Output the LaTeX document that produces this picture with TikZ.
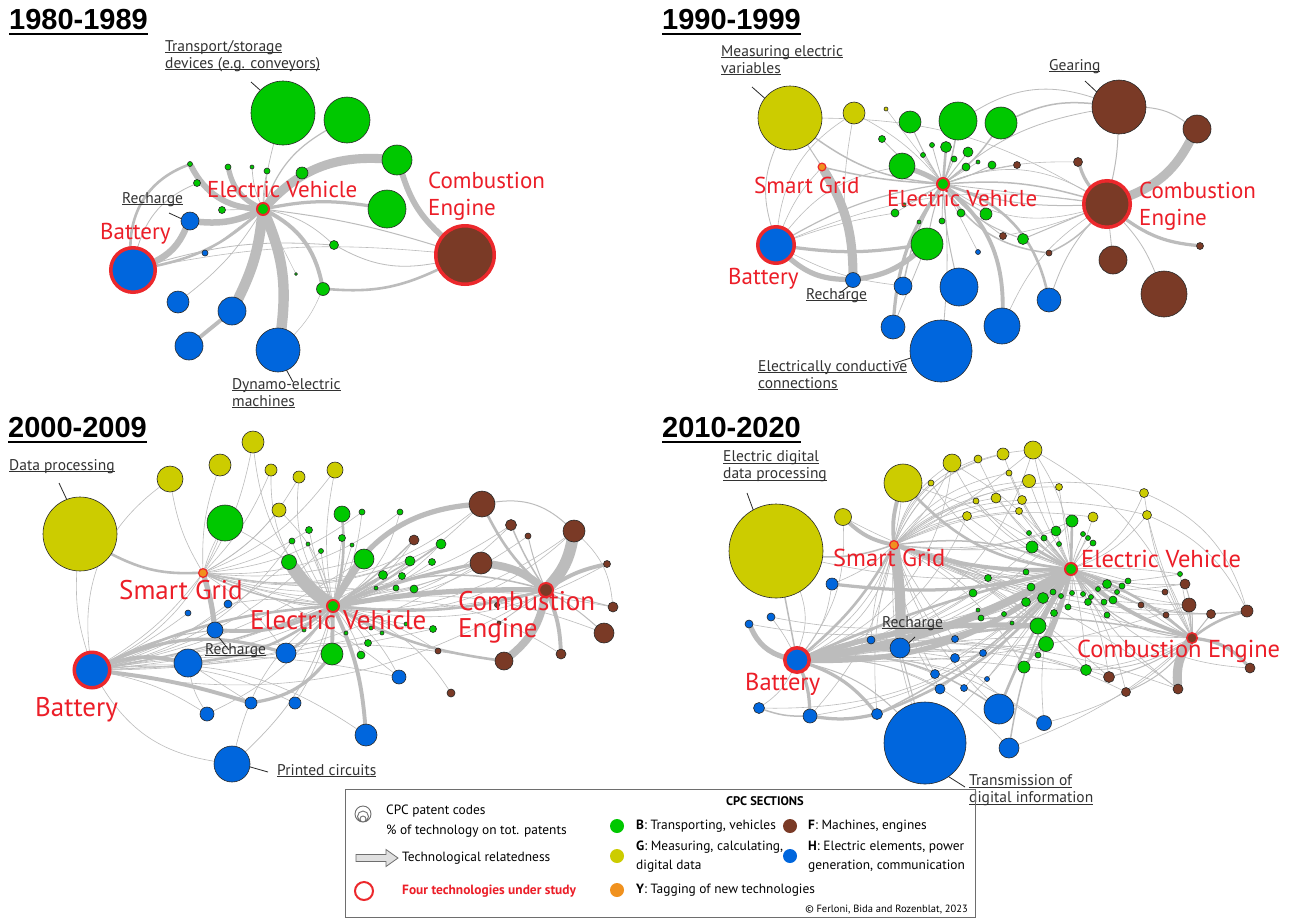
\documentclass[tikz,border=0pt]{standalone}
\usepackage{fontspec}
\setmainfont{PT Sans}
\newfontfamily\titlefont{Liberation Sans}
\usetikzlibrary{calc}

\definecolor{cg}{RGB}{0,200,0}
\definecolor{cf}{RGB}{122,58,38}
\definecolor{cy}{RGB}{204,204,0}
\definecolor{ch}{RGB}{0,102,221}
\definecolor{co}{RGB}{240,145,30}
\definecolor{ringred}{RGB}{236,40,44}
\definecolor{labred}{RGB}{236,30,40}
\definecolor{edgegray}{RGB}{188,188,188}
\definecolor{nodeline}{RGB}{40,40,40}
\definecolor{lblgray}{RGB}{50,50,50}
\definecolor{leadgray}{RGB}{40,40,40}
\definecolor{boxgray}{RGB}{110,110,110}

\pgfdeclarelayer{paper}
\pgfdeclarelayer{links}
\pgfsetlayers{paper,links,main}

% a patent-code circle: name, x, y, radius, colour
\newcommand\cpc[5]{\node[cpcnode, fill=#5, minimum size={2*#4}] (#1) at (#2,#3) {};}
% one of the four studied technologies: name, x, y, outer radius, colour, ring width
\newcommand\cpcring[6]{\node[cpcnode, fill=#5, draw=ringred, line width=#6, minimum size={2*#4-#6}] (#1) at (#2,#3) {};}
\newcommand\ul[1]{\underline{\smash{#1}}}
\newcommand\fsA{\fontsize{23}{27}\selectfont}
\newcommand\fsC{\fontsize{27}{27}\selectfont}
\newcommand\fsD{\fontsize{24.5}{27}\selectfont}

\begin{document}
\begin{tikzpicture}[x=1pt,y=-1pt,
  cpcnode/.style={circle, inner sep=0pt, outer sep=0pt, draw=nodeline, line width=0.6pt},
  lnk/.style={draw=edgegray, line width={(#1>1.5)?(1.3*#1):(#1)}, line cap=round},
  lnk/.default=0.6,
  leader/.style={draw=leadgray, line width=0.8pt},
  ttl/.style={font=\titlefont\bfseries\fontsize{29}{32}\selectfont, anchor=west, inner sep=0pt},
  ttlline/.style={line width=1.8pt},
  redlbl/.style={text=labred, anchor=west, inner sep=0pt, align=left},
  glbl/.style={text=lblgray, anchor=west, inner sep=0pt, align=left, font=\fontsize{15.5}{17}\selectfont},
  lgd/.style={anchor=west, inner sep=0pt, font=\fontsize{13.4}{19}\selectfont, align=left},
  dot/.style={circle, inner sep=0pt, minimum size=14pt},
]
\useasboundingbox (0,0) rectangle (1305,919);
\begin{pgfonlayer}{paper}
  \fill[white] (0,0) rectangle (1305,919);
\end{pgfonlayer}

%% ================= 1980-1989 =================
\node[ttl] (t1) at (9,20) {1980-1989};
\draw[ttlline] ([yshift=-3.5pt]t1.south west) -- ([yshift=-3.5pt]t1.south east);
\cpc{a-g1}{283}{113}{32}{cg}
\cpc{a-g2}{347}{120}{23}{cg}
\cpc{a-g3}{397}{160}{15}{cg}
\cpc{a-g4}{387}{209}{19}{cg}
\cpc{a-s1}{190}{164}{2.5}{cg}
\cpc{a-s2}{197}{183}{3.5}{cg}
\cpc{a-s3}{228}{167}{3}{cg}
\cpc{a-s4}{252}{167}{2}{cg}
\cpc{a-s5}{267}{171}{3}{cg}
\cpc{a-s6}{302}{173}{6}{cg}
\cpc{a-s7}{222}{210}{3.5}{cg}
\cpc{a-s8}{334}{245}{4.5}{cg}
\cpc{a-s9}{323}{289}{6.5}{cg}
\cpc{a-s10}{296}{274}{1.5}{cg}
\cpc{a-b0}{205}{253}{3}{ch}
\cpc{a-rec}{190}{221}{9}{ch}
\cpc{a-b1}{178}{302}{11}{ch}
\cpc{a-b2}{232}{311}{14}{ch}
\cpc{a-b3}{189}{346}{14}{ch}
\cpc{a-b4}{278}{350}{22}{ch}
\cpcring{a-ev}{263}{209}{7}{cg}{2}
\cpcring{a-bat}{133}{270}{24}{ch}{3.5}
\cpcring{a-ce}{465}{255}{31}{cf}{3.5}

\node[glbl] (a-t1) at (165,60.5) {\ul{Transport/storage}\\\ul{devices (e.g. conveyors)}};
\node[glbl] (a-t2) at (122,204) {\ul{Recharge}};
\node[glbl] (a-t3) at (232,398.5) {\ul{Dynamo-electric}\\\ul{machines}};
\node[redlbl, font=\fsA] (a-r1) at (100,234) {Battery};
\node[redlbl, font=\fsA] (a-r2) at (207,189) {Electric Vehicle};
\node[redlbl, font=\fsA] (a-r3) at (428,196) {Combustion\\Engine};
\coordinate (a-k1) at (251,82);  \draw[leader] (a-k1) -- (a-g1.135);
\coordinate (a-k2) at (169,213); \draw[leader] (a-k2) -- (a-rec.165);
\coordinate (a-k3) at (293,382); \draw[leader] (a-k3) -- (a-b4.-67);

\begin{pgfonlayer}{links}
\draw[lnk=0.7] (a-ev) to[bend left=5] (a-g1);
\draw[lnk=1.2] (a-ev) to[bend left=20] (a-g2);
\draw[lnk=7] (a-ev) to[bend left=25] (a-g3);
\draw[lnk=4.5] (a-g3) to[bend right=15] (a-ce);
\draw[lnk=2.5] (a-ev) to[bend left=10] (a-g4);
\draw[lnk=5] (a-ev) to[bend left=15] (a-rec);
\draw[lnk=5] (a-rec) to[bend left=20] (a-bat);
\draw[lnk=2] (a-bat) to[bend left=35] (a-s1);
\draw[lnk=0.8] (a-bat) to[bend left=25] (a-s2);
\draw[lnk=4.5] (a-ev) to[bend left=30] (a-s1);
\draw[lnk=4] (a-ev) to[bend left=25] (a-s3);
\draw[lnk=0.7] (a-ev) to[bend left=10] (a-s4);
\draw[lnk=0.7] (a-ev) to[bend left=5] (a-s5);
\draw[lnk=0.7] (a-ev) to[bend right=10] (a-s6);
\draw[lnk=0.6] (a-ev) to (a-s7);
\draw[lnk=2] (a-bat) to[bend right=15] (a-ev);
\draw[lnk=0.6] (a-ev) to (a-b0);
\draw[lnk=0.8] (a-bat) to[bend left=10] (a-s8);
\draw[lnk=0.7] (a-ev) to[bend left=10] (a-b1);
\draw[lnk=8] (a-ev) to[bend left=10] (a-b2);
\draw[lnk=3] (a-b2) to (a-b3);
\draw[lnk=8] (a-ev) to[bend left=15] (a-b4);
\draw[lnk=0.5] (a-ev) to (a-s10);
\draw[lnk=3] (a-ev) to[bend left=25] (a-s9);
\draw[lnk=2] (a-s9) to[bend right=15] (a-ce);
\draw[lnk=0.7] (a-ev) to[bend left=15] (a-s8);
\draw[lnk=0.8] (a-s8) to[bend right=20] (a-ce);
\draw[lnk=0.6] (a-bat) to[bend left=8] (a-ce);
\draw[lnk=0.5] (a-b4) to[bend right=10] (a-s9);
\draw[lnk=1] (a-ev) to[bend left=5] (a-ce);
\end{pgfonlayer}

%% ================= 1990-1999 =================
\node[ttl] (t2) at (662,20) {1990-1999};
\draw[ttlline] ([yshift=-3.5pt]t2.south west) -- ([yshift=-3.5pt]t2.south east);
\cpc{b-y1}{790}{118}{32}{cy}
\cpc{b-y2}{854}{113}{11}{cy}
\cpc{b-y3}{886}{109}{2}{cy}
\cpc{b-g1}{910}{122}{11}{cg}
\cpc{b-g2}{958}{121}{19}{cg}
\cpc{b-g3}{1001}{123}{16}{cg}
\cpc{b-g4}{902}{166}{13}{cg}
\cpc{b-g5}{927}{244}{16}{cg}
\cpc{b-s1}{882}{139}{3.5}{cg}
\cpc{b-s2}{932}{145}{2.5}{cg}
\cpc{b-s3}{946}{147}{5.5}{cg}
\cpc{b-s4}{968}{152}{5}{cg}
\cpc{b-s5}{923}{155}{2.5}{cg}
\cpc{b-s6}{954}{159}{3}{cg}
\cpc{b-s7}{966}{167}{4}{cg}
\cpc{b-s8}{978}{162}{2}{cg}
\cpc{b-s9}{992}{165}{4}{cg}
\cpc{b-s10}{895}{213}{4}{cg}
\cpc{b-s11}{904}{205}{2}{cg}
\cpc{b-s12}{919}{222}{2}{cg}
\cpc{b-s13}{942}{221}{3}{cg}
\cpc{b-s14}{961}{213}{4}{cg}
\cpc{b-s15}{986}{214}{6}{cg}
\cpc{b-s16}{1023}{239}{5.5}{cg}
\cpc{b-f1}{1119}{107}{27}{cf}
\cpc{b-f2}{1197}{129}{14}{cf}
\cpc{b-f3}{1078}{162}{4.5}{cf}
\cpc{b-f4}{1017}{165}{3.5}{cf}
\cpc{b-f5}{1003}{236}{3.5}{cf}
\cpc{b-f6}{1049}{253}{3}{cf}
\cpc{b-f7}{1200}{246}{3.5}{cf}
\cpc{b-f8}{1113}{260}{14}{cf}
\cpc{b-f9}{1164}{294}{23}{cf}
\cpc{b-h1}{978}{252}{2.5}{ch}
\cpc{b-rec}{853}{280}{7.5}{ch}
\cpc{b-h2}{903}{286}{9}{ch}
\cpc{b-h3}{959}{287}{19}{ch}
\cpc{b-h4}{893}{327}{12}{ch}
\cpc{b-h5}{941}{351}{31}{ch}
\cpc{b-h6}{1002}{326}{18}{ch}
\cpc{b-h7}{1049}{300}{12}{ch}
\cpcring{b-ev}{943}{184}{7}{cg}{2}
\cpcring{b-sg}{822}{167}{4.5}{co}{1.2}
\cpcring{b-bat}{776}{245}{20}{ch}{3.5}
\cpcring{b-ce}{1107}{204}{25}{cf}{3.5}

\node[glbl] (b-t1) at (721,65.5) {\ul{Measuring electric}\\\ul{variables}};
\node[glbl] (b-t2) at (1049,71) {\ul{Gearing}};
\node[glbl] (b-t3) at (806,300) {\ul{Recharge}};
\node[glbl] (b-t4) at (758,380.5) {\ul{Electrically conductive}\\\ul{connections}};
\node[redlbl, font=\fsA] (b-r1) at (754,185) {Smart Grid};
\node[redlbl, font=\fsA] (b-r2) at (887,198) {Electric Vehicle};
\node[redlbl, font=\fsA] (b-r3) at (1139,206) {Combustion\\Engine};
\node[redlbl, font=\fsA] (b-r4) at (728,279) {Battery};
\coordinate (b-k1) at (752,87);   \draw[leader] (b-k1) -- (b-y1.142);
\coordinate (b-k2) at (1085,81);  \draw[leader] (b-k2) -- (b-f1.146);
\coordinate (b-k3) at (840,293);  \draw[leader] (b-k3) -- (b-rec.-125);
\coordinate (b-k4) at (895,363);  \draw[leader] (b-k4) -- (b-h5.193);

\begin{pgfonlayer}{links}
\draw[lnk=7] (b-sg) to[bend left=15] (b-rec);
\draw[lnk=4] (b-bat) to[bend right=20] (b-rec);
\draw[lnk=4] (b-rec) to[bend right=15] (b-g5);
\draw[lnk=2.5] (b-bat) to[bend right=8] (b-g5);
\draw[lnk=1.2] (b-bat) to[bend left=10] (b-ev);
\draw[lnk=0.8] (b-bat) to[bend left=20] (b-y1);
\foreach \t/\b in {b-sg/10, b-g4/20, b-ce/15, b-s10/5, b-h2/-10}
  \draw[lnk] (b-bat) to[bend left=\b] (\t);
\draw[lnk=1.5] (b-y1) to[bend right=15] (b-ev);
\draw[lnk=1] (b-y1) to (b-sg);
\draw[lnk=0.6] (b-y1) to[bend left=15] (b-ce);
\draw[lnk=0.6] (b-y2) to[bend right=25] (b-bat);
\draw[lnk=0.6] (b-y2) to[bend left=10] (b-ev);
\draw[lnk=0.6] (b-y2) to[bend right=10] (b-rec);
\draw[lnk=0.5] (b-y3) to (b-ev);
\foreach \t/\b/\w in {b-g1/5/1, b-g2/-5/1.5, b-g3/-10/1.5, b-g4/-5/4, b-s1/10/0.8, b-s2/0/0.8, b-s3/0/2, b-s4/0/1, b-s5/0/0.6, b-s6/0/0.8, b-s7/0/0.8, b-s8/0/0.6, b-s9/-5/1, b-s10/0/0.6, b-s11/0/0.6, b-s12/0/0.6, b-s13/0/0.8, b-s14/0/0.8, b-s15/-5/1.2, b-g5/-5/1, b-sg/5/1.5}
  \draw[lnk=\w] (b-ev) to[bend left=\b] (\t);
\foreach \t/\b/\w in {b-ce/10/1.5, b-ce/-10/1, b-ce/25/0.6, b-ce/-25/0.6, b-ce/0/0.8, b-f4/5/0.8, b-f5/-5/0.8, b-f6/-25/1.5, b-s16/-15/1, b-h6/25/3, b-h7/30/2, b-h5/5/0.8, b-h3/-5/1, b-h2/-10/1.5, b-h4/-15/2.5, b-h1/0/0.6, b-f3/10/0.6, b-f1/15/0.8}
  \draw[lnk=\w] (b-ev) to[bend left=\b] (\t);
\draw[lnk=1.5] (b-g3) to[bend left=15] (b-f1);
\draw[lnk=0.8] (b-g2) to[bend left=25] (b-f1);
\draw[lnk=1] (b-f1) to[bend left=15] (b-f2);
\draw[lnk=1] (b-f1) to[bend left=5] (b-ce);
\draw[lnk=7] (b-ce) to[bend right=20] (b-f2);
\foreach \t/\b/\w in {b-f3/10/2.5, b-f7/-15/2.5, b-f8/0/0.8, b-f9/10/0.8, b-f6/10/1.5, b-s16/0/1, b-h7/-10/0.8, b-h6/-15/0.6, b-f5/5/0.6}
  \draw[lnk=\w] (b-ce) to[bend left=\b] (\t);
\draw[lnk=0.8] (b-h4) to (b-g5);
\end{pgfonlayer}

%% ================= 2000-2009 =================
\node[ttl] (t3) at (8,428) {2000-2009};
\draw[ttlline] ([yshift=-3.5pt]t3.south west) -- ([yshift=-3.5pt]t3.south east);
\cpc{c-y0}{80}{534}{37}{cy}
\cpc{c-y1}{170}{479}{13}{cy}
\cpc{c-y2}{220}{465}{11}{cy}
\cpc{c-y3}{253}{442}{11}{cy}
\cpc{c-y4}{271}{470}{6}{cy}
\cpc{c-y5}{299}{477}{6}{cy}
\cpc{c-y6}{279}{510}{7}{cy}
\cpc{c-y7}{335}{470}{8}{cy}
\cpc{c-g1}{225}{523}{18}{cg}
\cpc{c-g2}{289}{562}{7.5}{cg}
\cpc{c-g3}{364}{559}{10}{cg}
\cpc{c-g4}{342}{514}{8}{cg}
\cpc{c-g5}{332}{654}{11}{cg}
\cpc{c-s1}{309}{530}{3.5}{cg}
\cpc{c-s2}{292}{541}{3}{cg}
\cpc{c-s3}{308}{544}{2}{cg}
\cpc{c-s4}{321}{551}{2.5}{cg}
\cpc{c-s5}{362}{512}{3}{cg}
\cpc{c-s6}{400}{512}{3}{cg}
\cpc{c-s7}{342}{538}{3.5}{cg}
\cpc{c-s8}{352}{545}{2}{cg}
\cpc{c-s9}{441}{544}{5}{cg}
\cpc{c-s10}{410}{561}{5}{cg}
\cpc{c-s11}{432}{562}{3.5}{cg}
\cpc{c-s12}{383}{575}{4.5}{cg}
\cpc{c-s13}{402}{576}{3.5}{cg}
\cpc{c-s14}{376}{588}{2}{cg}
\cpc{c-s15}{396}{588}{3}{cg}
\cpc{c-s16}{414}{589}{4}{cg}
\cpc{c-s17}{304}{630}{2}{cg}
\cpc{c-s18}{346}{633}{2}{cg}
\cpc{c-s19}{371}{628}{2}{cg}
\cpc{c-s20}{382}{633}{2}{cg}
\cpc{c-s21}{406}{624}{2}{cg}
\cpc{c-s22}{433}{629}{3.5}{cg}
\cpc{c-s23}{368}{643}{3.5}{cg}
\cpc{c-s24}{361}{655}{4}{cg}
\cpc{c-f1}{414}{540}{5}{cf}
\cpc{c-f2}{482}{504}{13}{cf}
\cpc{c-f3}{511}{525}{5.5}{cf}
\cpc{c-f4}{528}{536}{3}{cf}
\cpc{c-f5}{574}{531}{11}{cf}
\cpc{c-f6}{481}{563}{11}{cf}
\cpc{c-f7}{607}{564}{3.5}{cf}
\cpc{c-f8}{497}{605}{2.5}{cf}
\cpc{c-f9}{499}{623}{2}{cf}
\cpc{c-f10}{613}{607}{5}{cf}
\cpc{c-f11}{604}{633}{10}{cf}
\cpc{c-f12}{561}{654}{5}{cf}
\cpc{c-f13}{504}{661}{9}{cf}
\cpc{c-f14}{438}{651}{3}{cf}
\cpc{c-f15}{451}{693}{4}{cf}
\cpc{c-h1}{228}{604}{4}{ch}
\cpc{c-h2}{188}{613}{3}{ch}
\cpc{c-rec}{215}{630}{8}{ch}
\cpc{c-h3}{188}{663}{14}{ch}
\cpc{c-h4}{286}{653}{10}{ch}
\cpc{c-h5}{251}{703}{6}{ch}
\cpc{c-h6}{295}{703}{6}{ch}
\cpc{c-h7}{207}{714}{7}{ch}
\cpc{c-h8}{232}{764}{18}{ch}
\cpc{c-h9}{399}{677}{7}{ch}
\cpc{c-h10}{366}{735}{11}{ch}
\cpcring{c-ev}{333}{606}{7}{cg}{2}
\cpcring{c-sg}{203}{573}{5}{co}{1.2}
\cpcring{c-bat}{92}{670}{19.5}{ch}{3.5}
\cpcring{c-ce}{546}{590}{8}{cf}{2}

\node[glbl] (c-t1) at (9,471) {\ul{Data processing}};
\node[glbl] (c-t2) at (205,655) {\ul{Recharge}};
\node[glbl] (c-t3) at (277,776) {\ul{Printed circuits}};
\node[redlbl, font=\fsC] (c-r1) at (119,590) {Smart Grid};
\node[redlbl, font=\fsC] (c-r2) at (250,620) {Electric Vehicle};
\node[redlbl, font=\fsC] (c-r3) at (458,617) {Combustion\\Engine};
\node[redlbl, font=\fsC] (c-r4) at (35,710) {Battery};
\coordinate (c-k1) at (59,483);  \draw[leader] (c-k1) -- (c-y0.111);
\coordinate (c-k2) at (229,650); \draw[leader] (c-k2) -- (c-rec.-63);
\coordinate (c-k3) at (268,772); \draw[leader] (c-k3) -- (c-h8.-9);

\begin{pgfonlayer}{links}
\foreach \t/\b in {c-y7/10, c-y6/-15, c-y5/20, c-y4/25, c-s1/5, c-s2/10, c-s3/0, c-s4/5, c-s5/-10, c-s6/-20, c-s7/0, c-s8/0, c-s9/-15, c-s10/-10, c-s11/-10, c-s12/-5, c-s13/-5, c-s14/0, c-s15/0, c-s16/0, c-s17/10, c-s18/0, c-s19/0, c-s20/0, c-s21/-5, c-s22/-10, c-s23/10, c-s24/10, c-f1/-15, c-f3/-20, c-f4/-15, c-f7/-20, c-f10/10, c-f11/15, c-f12/20, c-f14/10, c-f15/20, c-h1/-10, c-h6/10, c-h8/-20, c-h9/15, c-g1/-10, c-y3/20, c-h7/15, c-f5/-25, c-f6/-5, c-f2/-10}
  \draw[lnk] (c-ev) to[bend left=\b] (\t);
\foreach \t/\b/\w in {c-g2/10/10, c-g3/0/3, c-g4/-10/2, c-g5/0/3, c-h10/10/3, c-rec/15/3, c-f2/30/4, c-ce/5/4, c-ce/-10/2, c-ce/20/1.5, c-f6/5/2.5, c-f13/-10/2, c-h4/10/2, c-h3/15/2, c-s12/0/1.5, c-s10/0/1.5, c-s9/-5/1.5, c-f1/-5/1.5}
  \draw[lnk=\w] (c-ev) to[bend left=\b] (\t);
\foreach \t/\b/\w in {c-f5/-15/9, c-f13/20/6, c-f6/-15/6, c-f2/10/2, c-f7/10/3, c-f12/10/3, c-f11/5/1, c-f10/0/1, c-f3/5/1.5, c-f4/5/1, c-f8/0/0.8, c-f9/0/0.8}
  \draw[lnk=\w] (c-ce) to[bend left=\b] (\t);
\draw[lnk=1] (c-f2) to[bend left=25] (c-f5);
\draw[lnk=0.6] (c-f5) to[bend left=20] (c-f10);
\draw[lnk=4] (c-sg) to[bend left=5] (c-rec);
\draw[lnk=2] (c-sg) to[bend left=15] (c-y0);
\foreach \t/\b in {c-y1/10, c-y2/10, c-y3/-10, c-y4/-10, c-y5/-15, c-y6/-10, c-y7/-15, c-g1/5, c-s1/-10, c-s5/-15, c-s6/-20, c-s9/-20, c-f2/-25, c-f6/-20, c-f5/-30, c-ce/-15, c-h4/10, c-h9/10, c-g3/-10, c-s10/-15, c-s16/-5, c-f3/-25}
  \draw[lnk] (c-sg) to[bend left=\b] (\t);
\draw[lnk=1.5] (c-sg) to[bend left=-10] (c-ev);
\foreach \t/\b/\w in {c-h3/15/3, c-h4/20/2.5, c-h5/5/3, c-ev/10/2, c-ev/-5/1.5, c-rec/10/1}
  \draw[lnk=\w] (c-bat) to[bend left=\b] (\t);
\foreach \t/\b in {c-y0/10, c-y1/30, c-sg/-10, c-h1/-10, c-h2/-5, c-h7/10, c-h8/-25, c-g1/-20, c-g2/-10, c-s4/-15, c-s9/-15, c-f6/-15, c-ce/-20, c-h6/15, c-h9/10, c-s12/-10, c-s20/-5, c-g3/-10, c-s2/-20, c-f13/10, c-s22/-5, c-h10/20}
  \draw[lnk] (c-bat) to[bend left=\b] (\t);
\draw[lnk=2.5] (c-h5) to[bend right=20] (c-g5);
\draw[lnk=0.7] (c-h8) to[bend right=15] (c-ev);
\draw[lnk=0.6] (c-h3) to (c-h5);
\draw[lnk=0.6] (c-h7) to[bend left=10] (c-h3);
\end{pgfonlayer}

%% ================= 2010-2020 =================
\node[ttl] (t4) at (662,428) {2010-2020};
\draw[ttlline] ([yshift=-3.5pt]t4.south west) -- ([yshift=-3.5pt]t4.south east);
\cpc{d-y0}{776}{551}{47}{cy}
\cpc{d-y1}{843}{517}{8.5}{cy}
\cpc{d-y2}{903}{483}{19}{cy}
\cpc{d-y3}{931}{483}{3}{cy}
\cpc{d-y4}{952}{463}{9}{cy}
\cpc{d-y5}{978}{459}{4}{cy}
\cpc{d-y6}{1003}{454}{6}{cy}
\cpc{d-y7}{1033}{450}{9}{cy}
\cpc{d-y8}{1009}{473}{3}{cy}
\cpc{d-y9}{976}{501}{3}{cy}
\cpc{d-y10}{996}{498}{5}{cy}
\cpc{d-y11}{967}{516}{4.5}{cy}
\cpc{d-y12}{1029}{481}{6.5}{cy}
\cpc{d-y13}{1059}{487}{3.5}{cy}
\cpc{d-y14}{1022}{500}{4.5}{cy}
\cpc{d-y15}{1019}{511}{3.5}{cy}
\cpc{d-y16}{1144}{493}{4.5}{cy}
\cpc{d-y17}{1147}{515}{4.5}{cy}
\cpc{d-y18}{1093}{517}{5}{cy}
\cpc{d-s1}{1072}{521}{6}{cg}
\cpc{d-s2}{1056}{531}{5}{cg}
\cpc{d-s3}{1029}{533}{2.5}{cg}
\cpc{d-s4}{1044}{538}{3}{cg}
\cpc{d-s5}{1059}{544}{2.5}{cg}
\cpc{d-s6}{1083}{534}{2.5}{cg}
\cpc{d-s7}{1088}{538}{2.5}{cg}
\cpc{d-s8}{1093}{543}{3}{cg}
\cpc{d-s9}{1032}{547}{6}{cg}
\cpc{d-s10}{988}{578}{3.5}{cg}
\cpc{d-s11}{973}{593}{4}{cg}
\cpc{d-s12}{978}{610}{2}{cg}
\cpc{d-s13}{981}{618}{3}{cg}
\cpc{d-s14}{1004}{614}{2.5}{cg}
\cpc{d-s15}{1012}{623}{2}{cg}
\cpc{d-s16}{1026}{572}{3}{cg}
\cpc{d-s17}{1031}{587}{4}{cg}
\cpc{d-s18}{1053}{592}{3}{cg}
\cpc{d-s19}{1061}{596}{2.5}{cg}
\cpc{d-s20}{1072}{593}{2.5}{cg}
\cpc{d-s21}{1043}{598}{5.5}{cg}
\cpc{d-s22}{1026}{602}{4.5}{cg}
\cpc{d-s23}{1068}{607}{3}{cg}
\cpc{d-s24}{1054}{613}{3.5}{cg}
\cpc{d-s25}{1083}{594}{2.5}{cg}
\cpc{d-s26}{1091}{597}{2.5}{cg}
\cpc{d-s27}{1098}{589}{2.5}{cg}
\cpc{d-s28}{1107}{584}{4.5}{cg}
\cpc{d-s29}{1122}{586}{3}{cg}
\cpc{d-s30}{1128}{581}{3}{cg}
\cpc{d-s31}{1117}{592}{2.5}{cg}
\cpc{d-s32}{1088}{602}{3.5}{cg}
\cpc{d-s33}{1104}{602}{3}{cg}
\cpc{d-s34}{1113}{600}{4}{cg}
\cpc{d-s35}{1107}{615}{3}{cg}
\cpc{d-s36}{1038}{626}{8}{cg}
\cpc{d-s37}{1046}{644}{7.5}{cg}
\cpc{d-s38}{1038}{655}{3}{cg}
\cpc{d-s39}{1024}{667}{6}{cg}
\cpc{d-s40}{1086}{670}{5.5}{cg}
\cpc{d-s41}{1180}{574}{2.5}{cg}
\cpc{d-f1}{1185}{584}{5}{cf}
\cpc{d-f2}{1165}{592}{3}{cf}
\cpc{d-f3}{1189}{605}{7}{cf}
\cpc{d-f4}{1141}{605}{3}{cf}
\cpc{d-f5}{1166}{615}{3}{cf}
\cpc{d-f6}{1211}{614}{4.5}{cf}
\cpc{d-f7}{1247}{611}{6}{cf}
\cpc{d-f8}{1250}{668}{5}{cf}
\cpc{d-f9}{1109}{677}{5.5}{cf}
\cpc{d-f10}{1126}{692}{4.5}{cf}
\cpc{d-f11}{1178}{689}{5}{cf}
\cpc{d-h1}{832}{584}{6}{ch}
\cpc{d-h2}{771}{617}{4}{ch}
\cpc{d-h3}{749}{624}{4}{ch}
\cpc{d-h4}{871}{640}{4}{ch}
\cpc{d-rec}{900}{648}{10}{ch}
\cpc{d-h5}{955}{639}{3.5}{ch}
\cpc{d-h6}{955}{658}{4.5}{ch}
\cpc{d-h7}{983}{653}{3.5}{ch}
\cpc{d-h8}{935}{674}{4.5}{ch}
\cpc{d-h9}{940}{689}{5}{ch}
\cpc{d-h10}{964}{688}{3.5}{ch}
\cpc{d-h11}{987}{679}{2.5}{ch}
\cpc{d-h12}{759}{708}{5.5}{ch}
\cpc{d-h13}{810}{716}{7}{ch}
\cpc{d-h14}{877}{714}{5.5}{ch}
\cpc{d-h15}{925}{743}{41}{ch}
\cpc{d-h16}{999}{709}{15}{ch}
\cpc{d-h17}{1009}{748}{10}{ch}
\cpc{d-h18}{1044}{723}{7.5}{ch}
\cpcring{d-ev}{1071}{569}{7}{cg}{2}
\cpcring{d-sg}{894}{545}{5}{co}{1.2}
\cpcring{d-bat}{797}{660}{14}{ch}{3.5}
\cpcring{d-ce}{1192}{638}{6}{cf}{1.5}

\node[glbl] (d-t1) at (723,471) {\ul{Electric digital}\\\ul{data processing}};
\node[glbl] (d-t2) at (882,628) {\ul{Recharge}};
\node[glbl] (d-t3) at (969,795) {\ul{Transmission of}\\\ul{digital information}};
\node[redlbl, font=\fsD] (d-r1) at (833,558) {Smart Grid};
\node[redlbl, font=\fsD] (d-r2) at (1081,559) {Electric Vehicle};
\node[redlbl, font=\fsD] (d-r3) at (1077,651) {Combustion Engine};
\node[redlbl, font=\fsD] (d-r4) at (745,684) {Battery};
\coordinate (d-k1) at (747,493); \draw[leader] (d-k1) -- (d-y0.119);
\coordinate (d-k2) at (915,637); \draw[leader] (d-k2) -- (d-rec.30);
\coordinate (d-k3) at (965,787); \draw[leader] (d-k3) -- (d-h15.-55);

\begin{pgfonlayer}{links}
% smart grid links
\draw[lnk=8] (d-sg) to[bend left=5] (d-rec);
\draw[lnk=3] (d-sg) to[bend left=15] (d-y1);
\draw[lnk=3] (d-sg) to[bend left=10] (d-y2);
\draw[lnk=2] (d-sg) to[bend left=10] (d-bat);
\draw[lnk=1.5] (d-sg) to[bend left=10] (d-y0);
\foreach \t/\b in {d-y3/15, d-y4/20, d-y5/25, d-y6/25, d-y7/30, d-y8/20, d-y9/15, d-y10/15, d-y11/10, d-y12/20, d-y13/20, d-y14/15, d-y15/10, d-y16/25, d-y17/20, d-y18/15, d-y4/-10, d-y7/-5}
  \draw[lnk] (d-sg) to[bend left=\b] (\t);
\foreach \t/\b in {d-s1/-15, d-s2/-10, d-s9/-5, d-s10/5, d-s11/10, d-s16/-5, d-s17/5, d-s21/5, d-s22/10, d-s28/-5, d-s30/-10, d-s36/10, d-s37/15, d-s39/15, d-s40/15, d-s41/-15, d-f1/-15, d-f3/-10, d-f6/-10, d-f7/-15, d-f9/10, d-f11/10, d-ce/-5, d-h1/10, d-h4/-10, d-h5/-5, d-h8/-10, d-h9/-15, d-h13/15, d-h14/-10, d-h15/-10, d-h16/-15, d-h18/-20}
  \draw[lnk] (d-sg) to[bend left=\b] (\t);
% electric vehicle links
\foreach \t/\b/\w in {d-bat/10/6, d-bat/20/4, d-bat/-5/2, d-s36/0/4, d-s37/5/3, d-sg/10/3, d-sg/-15/1.5, d-ce/-10/3, d-ce/10/2, d-ce/-25/1, d-rec/15/3, d-h14/15/2, d-h16/-5/2, d-h17/-10/1.5, d-y2/20/2, d-s9/0/2, d-s1/0/2, d-s39/10/2, d-h1/10/2.5}
  \draw[lnk=\w] (d-ev) to[bend left=\b] (\t);
\foreach \t/\b in {d-y0/10, d-y1/15, d-y2/-10, d-y3/25, d-y4/20, d-y5/15, d-y6/10, d-y7/5, d-y8/10, d-y9/10, d-y10/5, d-y11/10, d-y12/5, d-y13/0, d-y14/5, d-y15/5, d-y16/-20, d-y17/-15, d-y18/-5, d-y4/-10, d-y7/-15}
  \draw[lnk] (d-ev) to[bend left=\b] (\t);
\foreach \t in {d-s2, d-s3, d-s4, d-s5, d-s6, d-s7, d-s8, d-s10, d-s11, d-s12, d-s13, d-s14, d-s15, d-s16, d-s17, d-s18, d-s19, d-s20, d-s21, d-s22, d-s23, d-s24, d-s25, d-s26, d-s27, d-s28, d-s29, d-s30, d-s31, d-s32, d-s33, d-s34, d-s35, d-s38, d-s40, d-s41}
  \draw[lnk] (d-ev) to[bend left=5] (\t);
\foreach \t/\b in {d-f1/-10, d-f2/-5, d-f3/-10, d-f4/0, d-f5/-5, d-f6/-15, d-f7/-20, d-f8/-25, d-f9/10, d-f10/10, d-f11/-10, d-h2/20, d-h3/20, d-h4/10, d-h5/5, d-h6/5, d-h7/0, d-h8/5, d-h9/5, d-h10/0, d-h11/0, d-h12/25, d-h13/20, d-h15/5, d-h18/-15}
  \draw[lnk] (d-ev) to[bend left=\b] (\t);
% battery links
\foreach \t/\b/\w in {d-h3/25/4, d-y0/0/1.5, d-h13/10/2.5, d-h14/15/2.5, d-rec/5/2.5, d-s36/10/4, d-ce/15/1.5, d-h16/20/1.5, d-h15/15/1}
  \draw[lnk=\w] (d-bat) to[bend left=\b] (\t);
\foreach \t/\b in {d-y1/-20, d-y2/-25, d-y4/-30, d-y7/-30, d-y11/-25, d-h1/-15, d-h2/-5, d-h4/5, d-h5/10, d-h6/10, d-h7/5, d-h8/15, d-h9/15, d-h11/10, d-h12/15, d-h17/25, d-h18/20, d-s1/-20, d-s9/-15, d-s10/-10, d-s11/-10, d-s16/-10, d-s21/-10, d-s22/-5, d-s37/0, d-s39/5, d-s40/10, d-f9/15, d-f10/20, d-f11/15, d-f3/-10, d-ce/5, d-sg/-25, d-y0/-20}
  \draw[lnk] (d-bat) to[bend left=\b] (\t);
\draw[lnk=1.5] (d-h12) to[bend right=10] (d-h13);
\draw[lnk=2.5] (d-h13) to[bend right=10] (d-h14);
\draw[lnk=1.5] (d-h14) to[bend right=10] (d-ev);
\draw[lnk=1] (d-rec) to (d-h15);
\draw[lnk=2] (d-rec) to[bend left=5] (d-s36);
\draw[lnk] (d-h17) to[bend right=10] (d-ce);
\draw[lnk] (d-h18) to[bend right=15] (d-ce);
% combustion engine links
\foreach \t/\b/\w in {d-f11/-20/7, d-f7/10/2, d-f8/20/2.5, d-f3/0/1.5, d-f6/0/1, d-f1/-10/1, d-f2/0/0.6, d-f4/5/0.6, d-f5/0/0.6, d-f9/10/1, d-f10/15/1, d-y16/10/0.6, d-y17/5/0.6, d-s41/0/0.6, d-s40/15/0.8, d-s39/15/0.6, d-y7/-20/0.6}
  \draw[lnk=\w] (d-ce) to[bend left=\b] (\t);
\draw[lnk] (d-y16) to[bend left=25] (d-f7);
\draw[lnk] (d-y17) to[bend left=20] (d-f7);
\end{pgfonlayer}

%% ================= legend =================
\draw[boxgray, line width=0.9pt] (345,789) rectangle (975,917);
\node[font=\bfseries\fontsize{12.5}{14}\selectfont, inner sep=0pt] (lg-h) at (765,801) {CPC SECTIONS};
\draw[boxgray, line width=0.9pt] (363,814) circle[radius=8] (363,816.5) circle[radius=5.5] (363,819) circle[radius=3];
\node[lgd] (lg-1) at (386,811) {CPC patent codes};
\node[lgd] (lg-2) at (386,831) {\% of technology on tot. patents};
\draw[boxgray, fill=black!12, line width=0.8pt, line join=miter]
  (356,854.5) -- (386,854.5) -- (386,849.5) -- (398,858) -- (386,866.5) -- (386,861.5) -- (356,861.5) -- cycle;
\node[lgd] (lg-3) at (402,858) {Technological relatedness};
\draw[ringred, line width=2pt] (364,891) circle[radius=9];
\node[lgd, text=labred, font=\bfseries\fontsize{13.4}{15}\selectfont] (lg-4) at (402,891) {Four technologies under study};
\node[dot, fill=cg] (lg-db) at (617,826) {};
\node[lgd] (lg-b) at (636,826) {\textbf{B}: Transporting, vehicles};
\node[dot, fill=cf] (lg-df) at (790,826) {};
\node[lgd] (lg-f) at (808,826) {\textbf{F}: Machines, engines};
\node[dot, fill=cy] (lg-dg) at (617,856) {};
\node[lgd] (lg-g) at (636,856.5) {\textbf{G}: Measuring, calculating,\\digital data};
\node[dot, fill=ch] (lg-dh) at (790,856) {};
\node[lgd] (lg-hh) at (808,856.5) {\textbf{H}: Electric elements, power\\generation, communication};
\node[dot, fill=co] (lg-dy) at (617,890) {};
\node[lgd] (lg-y) at (636,890) {\textbf{Y}: Tagging of new technologies};
\node[anchor=east, inner sep=0pt, font=\fontsize{10.5}{12}\selectfont] (lg-c) at (968,910) {© Ferloni, Bida and Rozenblat, 2023};
\end{tikzpicture}
\end{document}
